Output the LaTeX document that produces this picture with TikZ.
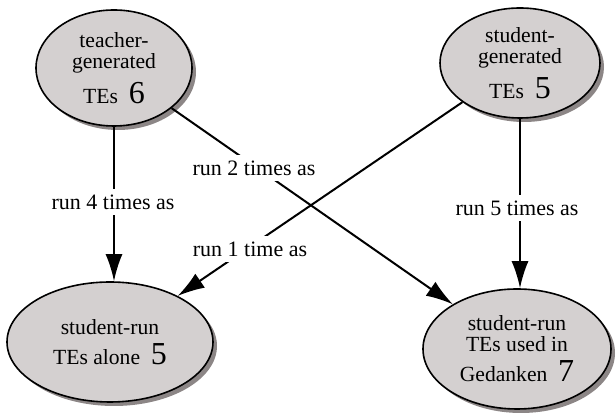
\documentclass[tikz,border=0pt]{standalone}
\usepackage{fontspec}
\setmainfont{Liberation Serif}
\usetikzlibrary{shapes.geometric,shadows,arrows.meta}
\definecolor{ellfill}{RGB}{212,208,208}
\definecolor{shadowgray}{RGB}{140,134,134}
\tikzset{
  te/.style={ellipse, draw=black, line width=0.8pt, fill=ellfill, inner sep=0pt,
    align=center, font=\fontsize{10.8}{10.5}\selectfont,
    drop shadow={shadow xshift=2pt, shadow yshift=-2pt, fill=shadowgray, opacity=1}},
  conn/.style={line width=1pt, -{Latex[length=13.5pt,width=8.5pt]}},
  lab/.style={fill=white, inner sep=3pt, font=\fontsize{11}{12}\selectfont},
}
\newcommand{\bignum}[1]{{\fontsize{16}{16}\selectfont #1}}
\begin{document}
\begin{tikzpicture}[x=0.5pt,y=-0.5pt]
\useasboundingbox (0,0) rectangle (616,415);
\node[te, minimum width=78pt, minimum height=58pt] (t) at (114,68)
  {teacher-\\generated\\[3.5pt]TEs\ \ \bignum{6}};
\node[te, minimum width=80pt, minimum height=55pt] (s) at (520,63)
  {student-\\generated\\[3.5pt]TEs\ \ \bignum{5}};
\node[te, minimum width=103pt, minimum height=60pt] (a) at (110,342)
  {student-run\\[3.5pt]TEs alone\ \ \bignum{5}};
\node[te, minimum width=94pt, minimum height=60pt] (g) at (517,349)
  {student-run\\TEs used in\\[3.5pt]Gedanken\ \ \bignum{7}};
\draw[conn] (t.south) -- (t.south |- a.north);
\draw[conn] (t) -- (g);
\draw[conn] (s) -- (a);
\draw[conn] (s.south) -- (s.south |- g.north);
\node[lab] (l4) at (113,202) {run 4 times as};
\node[lab] (l2) at (254,168) {run 2 times as};
\node[lab] (l1) at (250,249) {run 1 time as};
\node[lab] (l5) at (517,208) {run 5 times as};
\end{tikzpicture}
\end{document}
